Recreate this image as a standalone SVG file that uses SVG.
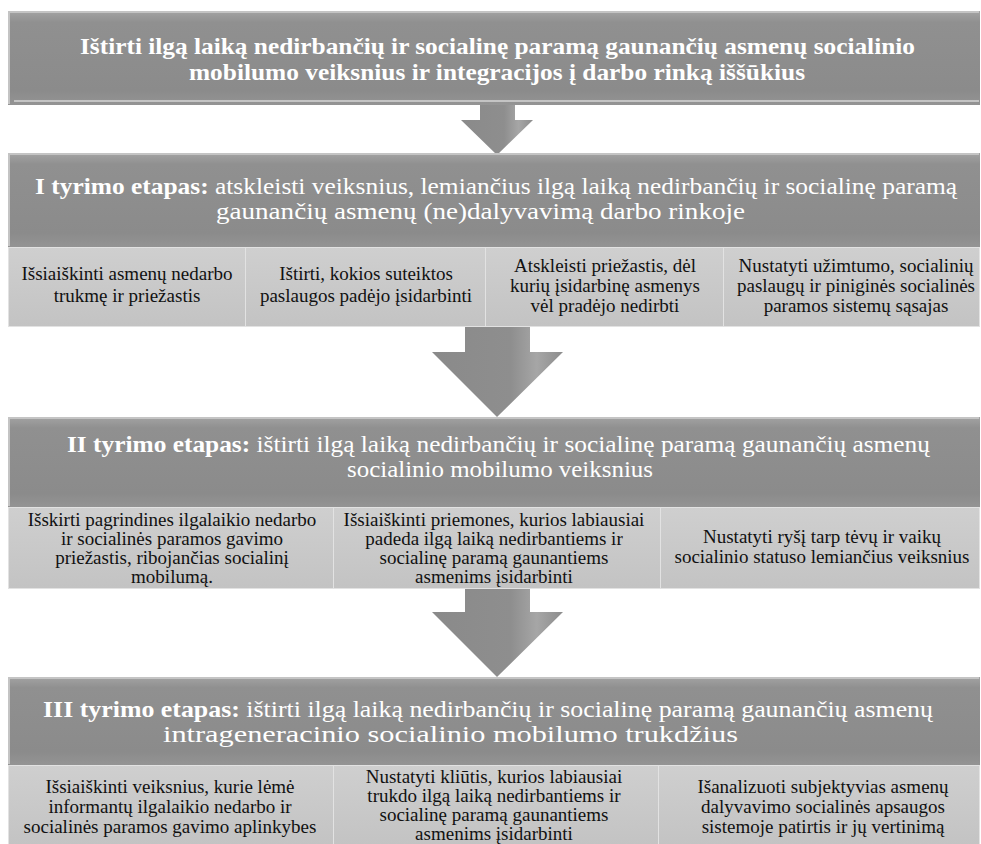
<svg xmlns="http://www.w3.org/2000/svg" width="981" height="844" viewBox="0 0 981 844">
<style>
.hdr{fill:url(#gHdr);}
.bev{fill:none;stroke:#c4c4c4;stroke-width:2;}
.sub{fill:url(#gSub);stroke:#e2e2e2;stroke-width:1;}
.ht{font-family:"Liberation Serif","Times New Roman",serif;font-size:23px;fill:#ffffff;}
.hb{font-weight:bold;}
.st{font-family:"Liberation Serif","Times New Roman",serif;font-size:19px;fill:#111111;text-anchor:middle;}
.arr{fill:url(#gArr);}
</style>
<defs>
<linearGradient id="gHdr" x1="0" y1="0" x2="0" y2="1">
<stop offset="0" stop-color="#a3a3a3"/>
<stop offset="0.12" stop-color="#909090"/>
<stop offset="0.85" stop-color="#8b8b8b"/>
<stop offset="1" stop-color="#949494"/>
</linearGradient>
<linearGradient id="gSub" x1="0" y1="0" x2="0" y2="1">
<stop offset="0" stop-color="#cfcfcf"/>
<stop offset="1" stop-color="#c3c3c3"/>
</linearGradient>
<linearGradient id="gArr" x1="0" y1="0" x2="1" y2="0">
<stop offset="0" stop-color="#8a8a8a"/>
<stop offset="0.6" stop-color="#8e8e8e"/>
<stop offset="0.8" stop-color="#a6a6a6"/>
<stop offset="1" stop-color="#8c8c8c"/>
</linearGradient>
</defs>
<rect width="981" height="844" fill="#ffffff"/>
<g id="connectors">
<polygon class="arr" points="480,100 515,100 515,120 533,120 497,155 461,120 480,120"/>
<polygon class="arr" points="465,326 530,326 530,352 563,352 497,417 432,352 465,352"/>
<polygon class="arr" points="465,588 530,588 530,612 563,612 497,677 432,612 465,612"/>
</g>
<g id="goal">
<rect class="hdr" x="8" y="11" width="972" height="94"/>
<polyline class="bev" points="9,104 9,12 979,12"/>
<line class="bev" x1="14" y1="101" x2="979" y2="101"/>
<text class="ht hb" x="80" y="54" textLength="835" lengthAdjust="spacingAndGlyphs">Ištirti ilgą laiką nedirbančių ir socialinę paramą gaunančių asmenų socialinio</text>
<text class="ht hb" x="189" y="80" textLength="616" lengthAdjust="spacingAndGlyphs">mobilumo veiksnius ir integracijos į darbo rinką iššūkius</text>
</g>
<g id="stage1">
<rect class="hdr" x="8" y="153" width="972" height="94"/>
<polyline class="bev" points="9,246 9,154 979,154"/>
<text class="ht" x="35" y="194" textLength="922" lengthAdjust="spacingAndGlyphs"><tspan class="hb">I tyrimo etapas:</tspan> atskleisti veiksnius, lemiančius ilgą laiką nedirbančių ir socialinę paramą</text>
<text class="ht" x="216" y="219" textLength="529" lengthAdjust="spacingAndGlyphs">gaunančių asmenų (ne)dalyvavimą darbo rinkoje</text>
</g>
<g id="stage1-a">
<rect class="sub" x="8.5" y="247.5" width="237" height="79"/>
<text class="st" x="127" y="280">Išsiaiškinti asmenų nedarbo</text>
<text class="st" x="127" y="302">trukmę ir priežastis</text>
</g>
<g id="stage1-b">
<rect class="sub" x="245.5" y="247.5" width="240" height="79"/>
<text class="st" x="366" y="280">Ištirti, kokios suteiktos</text>
<text class="st" x="366" y="302">paslaugos padėjo įsidarbinti</text>
</g>
<g id="stage1-c">
<rect class="sub" x="485.5" y="247.5" width="238" height="79"/>
<text class="st" x="605" y="272">Atskleisti priežastis, dėl</text>
<text class="st" x="605" y="292">kurių įsidarbinę asmenys</text>
<text class="st" x="605" y="312">vėl pradėjo nedirbti</text>
</g>
<g id="stage1-d">
<rect class="sub" x="723.5" y="247.5" width="256" height="79"/>
<text class="st" x="856" y="272">Nustatyti užimtumo, socialinių</text>
<text class="st" x="856" y="292">paslaugų ir piniginės socialinės</text>
<text class="st" x="856" y="312">paramos sistemų sąsajas</text>
</g>
<g id="stage2">
<rect class="hdr" x="8" y="417" width="972" height="90"/>
<polyline class="bev" points="9,506 9,418 979,418"/>
<text class="ht" x="67" y="452" textLength="863" lengthAdjust="spacingAndGlyphs"><tspan class="hb">II tyrimo etapas:</tspan> ištirti ilgą laiką nedirbančių ir socialinę paramą gaunančių asmenų</text>
<text class="ht" x="347" y="477" textLength="306" lengthAdjust="spacingAndGlyphs">socialinio mobilumo veiksnius</text>
</g>
<g id="stage2-a">
<rect class="sub" x="8.5" y="507.5" width="325" height="81"/>
<text class="st" x="172" y="526">Išskirti pagrindines ilgalaikio nedarbo</text>
<text class="st" x="172" y="545">ir socialinės paramos gavimo</text>
<text class="st" x="172" y="564">priežastis, ribojančias socialinį</text>
<text class="st" x="172" y="583">mobilumą.</text>
</g>
<g id="stage2-b">
<rect class="sub" x="333.5" y="507.5" width="327" height="81"/>
<text class="st" x="494" y="526">Išsiaiškinti priemones, kurios labiausiai</text>
<text class="st" x="494" y="545">padeda ilgą laiką nedirbantiems ir</text>
<text class="st" x="494" y="564">socialinę paramą gaunantiems</text>
<text class="st" x="494" y="583">asmenims įsidarbinti</text>
</g>
<g id="stage2-c">
<rect class="sub" x="660.5" y="507.5" width="319" height="81"/>
<text class="st" x="822" y="543">Nustatyti ryšį tarp tėvų ir vaikų</text>
<text class="st" x="822" y="563">socialinio statuso lemiančius veiksnius</text>
</g>
<g id="stage3">
<rect class="hdr" x="8" y="677" width="972" height="88"/>
<polyline class="bev" points="9,764 9,678 979,678"/>
<text class="ht" x="43" y="717" textLength="890" lengthAdjust="spacingAndGlyphs"><tspan class="hb">III tyrimo etapas:</tspan> ištirti ilgą laiką nedirbančių ir socialinę paramą gaunančių asmenų</text>
<text class="ht" x="163" y="742" textLength="575" lengthAdjust="spacingAndGlyphs">intrageneracinio socialinio mobilumo trukdžius</text>
</g>
<g id="stage3-a">
<rect class="sub" x="8.5" y="765.5" width="325" height="80"/>
<text class="st" x="170" y="793">Išsiaiškinti veiksnius, kurie lėmė</text>
<text class="st" x="170" y="813">informantų ilgalaikio nedarbo ir</text>
<text class="st" x="170" y="833">socialinės paramos gavimo aplinkybes</text>
</g>
<g id="stage3-b">
<rect class="sub" x="333.5" y="765.5" width="325" height="80"/>
<text class="st" x="494" y="783">Nustatyti kliūtis, kurios labiausiai</text>
<text class="st" x="494" y="802">trukdo ilgą laiką nedirbantiems ir</text>
<text class="st" x="494" y="821">socialinę paramą gaunantiems</text>
<text class="st" x="494" y="840">asmenims įsidarbinti</text>
</g>
<g id="stage3-c">
<rect class="sub" x="658.5" y="765.5" width="321" height="80"/>
<text class="st" x="823" y="793">Išanalizuoti subjektyvias asmenų</text>
<text class="st" x="823" y="813">dalyvavimo socialinės apsaugos</text>
<text class="st" x="823" y="833">sistemoje patirtis ir jų vertinimą</text>
</g>
</svg>
